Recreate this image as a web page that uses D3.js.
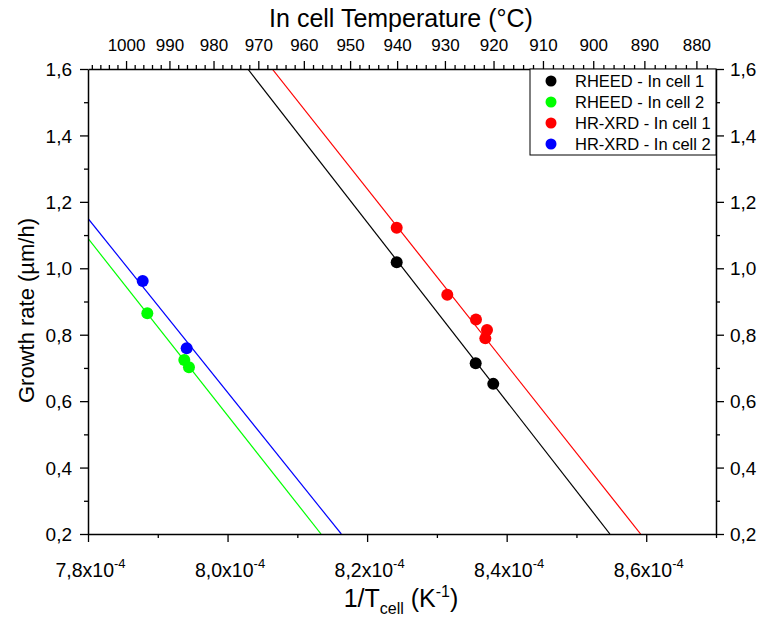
<!DOCTYPE html>
<html>
<head>
<meta charset="utf-8">
<script src="https://cdn.jsdelivr.net/npm/d3@7"></script>
<style>
  html, body { margin: 0; padding: 0; background: #fff; }
  text { font-family: "Liberation Sans", Arial, sans-serif; fill: #000; }
</style>
</head>
<body>
<svg id="chart" width="764" height="619"></svg>
<script>
// ---- Data (x in units of 1e-4 K^-1, y in µm/h) ----
const seriesNames = ["RHEED - In cell 1", "RHEED - In cell 2", "HR-XRD - In cell 1", "HR-XRD - In cell 2"];
const seriesColors = ["#000000", "#00ff00", "#ff0000", "#0000ff"];

const rheed1X = [8.2424, 8.3556, 8.3808];
const rheed1Y = [1.018, 0.714, 0.652];
const rheed2X = [7.885, 7.938, 7.9447];
const rheed2Y = [0.8645, 0.724, 0.702];
const xrd1X = [8.2424, 8.3149, 8.356, 8.3718, 8.3694];
const xrd1Y = [1.122, 0.920, 0.846, 0.814, 0.789];
const xrd2X = [7.8784, 7.9414];
const xrd2Y = [0.9617, 0.759];

// linear fit lines (endpoints in data units)
const fitRheed1X = [8.029, 8.548], fitRheed1Y = [1.6, 0.2];
const fitRheed2X = [7.8, 8.134],   fitRheed2Y = [1.09, 0.2];
const fitXrd1X = [8.064, 8.592],   fitXrd1Y = [1.6, 0.2];
const fitXrd2X = [7.8, 8.163],     fitXrd2Y = [1.15, 0.2];

// ticks
const xMajorTicks = [7.8, 8.0, 8.2, 8.4, 8.6];
const xMinorTicks = [7.9, 8.1, 8.3, 8.5, 8.7];
const yMajorTicks = [0.2, 0.4, 0.6, 0.8, 1.0, 1.2, 1.4, 1.6];
const yMinorTicks = [0.3, 0.5, 0.7, 0.9, 1.1, 1.3, 1.5];
const topMajorTicks = [1000, 990, 980, 970, 960, 950, 940, 930, 920, 910, 900, 890, 880];
const topMinorTicks = d3.range(1008, 876, -2).filter(t => t % 10 !== 0);

// ---- Layout ----
const svg = d3.select("#chart");
const L = 88, R = 716, T = 69, B = 534;
const x = d3.scaleLinear().domain([7.8, 8.7]).range([L, R]);
const y = d3.scaleLinear().domain([0.2, 1.6]).range([B, T]);
const tempToX = t => 1e4 / (t + 273.15);
const comma = v => d3.format(".1f")(v).replace(".", ",");

// clip
svg.append("clipPath").attr("id", "clip")
  .append("rect").attr("x", L).attr("y", T).attr("width", R - L).attr("height", B - T);

// ---- Fit lines ----
const fits = [
  [fitRheed1X, fitRheed1Y, seriesColors[0]],
  [fitRheed2X, fitRheed2Y, seriesColors[1]],
  [fitXrd1X, fitXrd1Y, seriesColors[2]],
  [fitXrd2X, fitXrd2Y, seriesColors[3]]
];
const line = d3.line().x(d => x(d[0])).y(d => y(d[1]));
const gLines = svg.append("g").attr("clip-path", "url(#clip)");
fits.forEach(([fx, fy, c]) => {
  gLines.append("path")
    .attr("d", line(fx.map((v, i) => [v, fy[i]])))
    .attr("fill", "none").attr("stroke", c).attr("stroke-width", 1.2);
});

// ---- Points ----
const pts = [
  [rheed1X, rheed1Y, seriesColors[0]],
  [rheed2X, rheed2Y, seriesColors[1]],
  [xrd1X, xrd1Y, seriesColors[2]],
  [xrd2X, xrd2Y, seriesColors[3]]
];
pts.forEach(([px, py, c]) => {
  svg.append("g").selectAll("circle")
    .data(px.map((v, i) => [v, py[i]]))
    .join("circle")
    .attr("cx", d => x(d[0])).attr("cy", d => y(d[1]))
    .attr("r", 6).attr("fill", c);
});

// ---- Axes ----
const axisStyle = g => {
  g.select(".domain").attr("stroke", "#000").attr("stroke-width", 1.5);
  g.selectAll(".tick line").attr("stroke", "#000").attr("stroke-width", 1.3);
};

// bottom major
const gB = svg.append("g").attr("transform", `translate(0,${B})`)
  .call(d3.axisBottom(x).tickValues(xMajorTicks).tickSize(8).tickSizeOuter(0).tickFormat(""))
  .call(axisStyle);
svg.append("g").attr("transform", `translate(0,${B})`)
  .call(d3.axisBottom(x).tickValues(xMinorTicks).tickSize(4).tickSizeOuter(0).tickFormat(""))
  .call(axisStyle).call(g => g.select(".domain").remove());
gB.selectAll(".tick").append("text")
  .attr("y", 43).attr("text-anchor", "middle").style("font-size", "19.5px")
  .each(function(d) {
    const t = d3.select(this);
    t.append("tspan").text(comma(d) + "x10");
    t.append("tspan").attr("dy", -9).style("font-size", "13px").text("-4");
  })
  .attr("dx", 2);

// top axis (temperature)
const gT = svg.append("g").attr("transform", `translate(0,${T})`)
  .call(d3.axisTop(x).tickValues(topMajorTicks.map(tempToX)).tickSize(8).tickSizeOuter(0).tickFormat(""))
  .call(axisStyle);
svg.append("g").attr("transform", `translate(0,${T})`)
  .call(d3.axisTop(x).tickValues(topMinorTicks.map(tempToX)).tickSize(4).tickSizeOuter(0).tickFormat(""))
  .call(axisStyle).call(g => g.select(".domain").remove());
gT.selectAll(".tick").append("text")
  .data(topMajorTicks)
  .attr("y", -18).attr("text-anchor", "middle").style("font-size", "17px")
  .text(d => d);

// left axis
const gL = svg.append("g").attr("transform", `translate(${L},0)`)
  .call(d3.axisLeft(y).tickValues(yMajorTicks).tickSize(8).tickSizeOuter(0).tickFormat(""))
  .call(axisStyle);
svg.append("g").attr("transform", `translate(${L},0)`)
  .call(d3.axisLeft(y).tickValues(yMinorTicks).tickSize(4).tickSizeOuter(0).tickFormat(""))
  .call(axisStyle).call(g => g.select(".domain").remove());
gL.selectAll(".tick").append("text")
  .attr("x", -16).attr("dy", "0.35em").attr("text-anchor", "end").style("font-size", "19px")
  .text(d => comma(d));

// right axis
const gR = svg.append("g").attr("transform", `translate(${R},0)`)
  .call(d3.axisRight(y).tickValues(yMajorTicks).tickSize(8).tickSizeOuter(0).tickFormat(""))
  .call(axisStyle);
svg.append("g").attr("transform", `translate(${R},0)`)
  .call(d3.axisRight(y).tickValues(yMinorTicks).tickSize(4).tickSizeOuter(0).tickFormat(""))
  .call(axisStyle).call(g => g.select(".domain").remove());
gR.selectAll(".tick").append("text")
  .attr("x", 14).attr("dy", "0.35em").attr("text-anchor", "start").style("font-size", "19px")
  .text(d => comma(d));

// ---- Titles ----
svg.append("text").attr("x", 401).attr("y", 27)
  .attr("text-anchor", "middle").style("font-size", "25px")
  .text("In cell Temperature (°C)");

const bt = svg.append("text").attr("x", 401).attr("y", 607)
  .attr("text-anchor", "middle").style("font-size", "25px");
bt.append("tspan").text("1/T");
bt.append("tspan").attr("dy", 7).style("font-size", "16px").text("cell");
bt.append("tspan").attr("dy", -7).text(" (K");
bt.append("tspan").attr("dy", -10).style("font-size", "16px").text("-1");
bt.append("tspan").attr("dy", 10).text(")");

svg.append("text")
  .attr("transform", `translate(34,${(T + B) / 2 + 9}) rotate(-90)`)
  .attr("text-anchor", "middle").style("font-size", "22px")
  .text("Growth rate (µm/h)");

// ---- Legend ----
const lg = svg.append("g");
lg.append("rect").attr("x", 530).attr("y", T).attr("width", R - 530).attr("height", 86)
  .attr("fill", "#fff").attr("stroke", "#000").attr("stroke-width", 1);
seriesNames.forEach((name, i) => {
  const yy = T + 12 + i * 21;
  lg.append("circle").attr("cx", 551).attr("cy", yy).attr("r", 5.5).attr("fill", seriesColors[i]);
  lg.append("text").attr("x", 575).attr("y", yy).attr("dy", "0.35em")
    .style("font-size", "16.5px").text(name);
});
</script>
</body>
</html>
